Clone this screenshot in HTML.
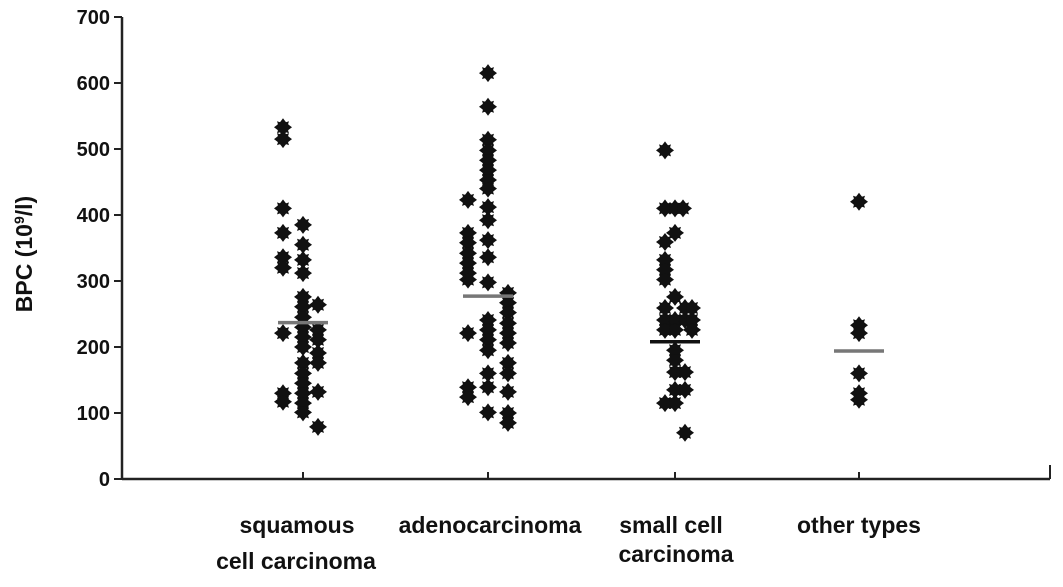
<!DOCTYPE html>
<html><head><meta charset="utf-8"><style>
body{margin:0;background:#fff;}
svg{display:block;font-family:"Liberation Sans",Arial,sans-serif;font-weight:bold;}
</style></head><body>
<svg id="chart" width="1063" height="587" viewBox="0 0 1063 587">
<g id="axes"></g>
<g id="marks"></g>
<text transform="translate(32,254) rotate(-90)" text-anchor="middle" font-size="23" fill="#111">BPC (10<tspan dy="-8" font-size="14">9</tspan><tspan dy="8">/l)</tspan></text>
<g font-size="23" fill="#111" text-anchor="middle">
<text x="297" y="533">squamous</text>
<text x="296" y="569">cell carcinoma</text>
<text x="490" y="533">adenocarcinoma</text>
<text x="671" y="533">small cell</text>
<text x="676" y="562">carcinoma</text>
<text x="859" y="533">other types</text>
</g>
</svg>
<script>
const yTicks=[0,100,200,300,400,500,600,700];
const categories=["squamous cell carcinoma","adenocarcinoma","small cell carcinoma","other types"];
const squamousValues=[533,515,410,373,336,320,221,130,117, 385,355,332,312,276,261,245,230,215,200,176,160,145,130,115,101, 264,226,211,191,176,132,79];
const squamousCols=[-1,-1,-1,-1,-1,-1,-1,-1,-1, 0,0,0,0,0,0,0,0,0,0,0,0,0,0,0,0, 0.75,0.75,0.75,0.75,0.75,0.75,0.75];
const adenoValues=[423,373,358,342,327,312,302,221,139,124, 615,564,514,498,483,468,453,440,412,392,362,336,298,241,226,211,195,160,139,101, 282,267,252,236,221,206,176,160,132,100,85];
const adenoCols=[-1,-1,-1,-1,-1,-1,-1,-1,-1,-1, 0,0,0,0,0,0,0,0,0,0,0,0,0,0,0,0,0,0,0,0, 1,1,1,1,1,1,1,1,1,1,1];
const smallValues=[498,410,410,410,373,359,332,317,302,276,259,259,259,241,241,241,241,226,226,226,195,180,162,162,135,135,115,115,70];
const smallCols=[-0.5,-0.5,0,0.4,0,-0.5,-0.5,-0.5,-0.5,0,-0.5,0.5,0.85,-0.5,0,0.5,0.85,-0.5,0,0.85,0,0,0,0.5,0,0.5,-0.5,0,0.5];
const otherValues=[420,233,221,160,130,120];
const otherCols=[0,0,0,0,0,0];
const medians=[237,277,208,194];
const groups=[[squamousValues,squamousCols],[adenoValues,adenoCols],[smallValues,smallCols],[otherValues,otherCols]];
const centers=[303,488,675,859];
const X0=122,X1=1050,Y0=479,Y1=17;
const yScale=v=>Y0-(v/700)*(Y0-Y1);
const colW=20;
const NS="http://www.w3.org/2000/svg";
const axes=document.getElementById('axes'),marks=document.getElementById('marks');
function mk(tag,attrs,parent){const e=document.createElementNS(NS,tag);for(const k in attrs)e.setAttribute(k,attrs[k]);parent.appendChild(e);return e;}
let l=mk('line',{x1:X0,y1:Y1,x2:X0,y2:Y0,stroke:'#222','stroke-width':2.5},axes);


l=mk('line',{x1:X0,y1:Y0,x2:X1,y2:Y0,stroke:'#222','stroke-width':2.5},axes);


l=mk('line',{x1:X1,y1:Y0,x2:X1,y2:Y0-14,stroke:'#222','stroke-width':2},axes);


yTicks.forEach(t=>{
 const y=yScale(t);
 const tk=mk('line',{x1:X0-8,y1:y,x2:X0,y2:y,stroke:'#222','stroke-width':2},axes);
 
 
 const tx=mk('text',{x:X0-12,y:y+7,'text-anchor':'end','font-size':20,fill:'#111'},axes);
 tx.textContent=t;
 
 
});
centers.forEach((c,i)=>{
 const tk=mk('line',{x1:c,y1:Y0,x2:c,y2:Y0-7,stroke:'#222','stroke-width':2},axes);
 
 
});
const marker="M0,-9 L3,-5 L6,-6 L5,-3 L9,0 L5,3 L6,6 L3,5 L0,9 L-3,5 L-6,6 L-5,3 L-9,0 L-5,-3 L-6,-6 L-3,-5Z";
groups.forEach((g,gi)=>{
 const [vals,cols]=g;
 vals.forEach((v,i)=>{
  const x=centers[gi]+cols[i]*colW, y=yScale(v);
  const p=mk('path',{d:marker,transform:`translate(${x},${y})`,fill:'#111'},marks);
  
  
  const c=mk('circle',{cx:x,cy:y,r:6,fill:'#111'},marks);
  
  
 });
 const my=yScale(medians[gi]);
 const m=mk('line',{x1:centers[gi]-25,y1:my,x2:centers[gi]+25,y2:my,stroke:gi===2?'#111':'#777','stroke-width':3.5},marks);
 
 
});
</script>
</body></html>
